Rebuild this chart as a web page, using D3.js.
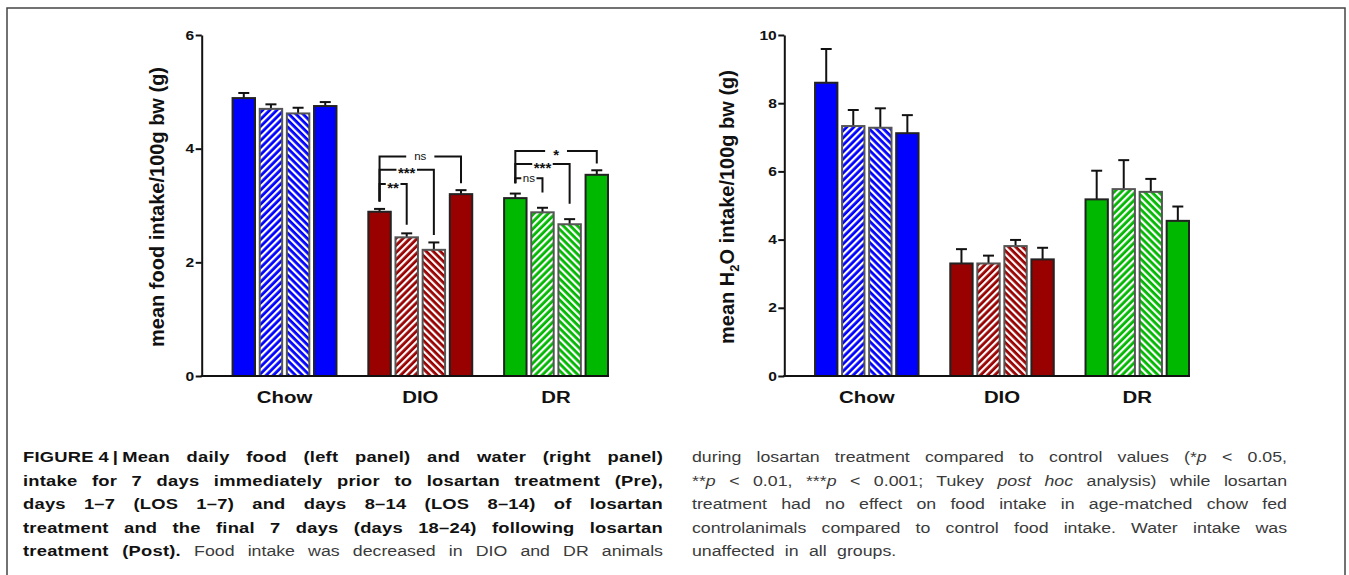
<!DOCTYPE html>
<html>
<head>
<meta charset="utf-8">
<script src="https://cdn.jsdelivr.net/npm/d3@7"></script>
<style>
  body { margin: 0; background: #fff; }
  svg { display: block; }
</style>
</head>
<body>
<svg id="fig" width="1349" height="575"></svg>
<script>
var groups = ["Chow", "DIO", "DR"]
var periods = ["Pre", "LOS 1-7", "LOS 8-14", "Post"]
var colors = ["#0000ff", "#990000", "#00b800"]

// mean daily food intake (g/100g bw) and SEM, rows = groups, cols = periods
var foodMean = [[4.89, 4.70, 4.62, 4.75], [2.89, 2.44, 2.22, 3.20], [3.13, 2.88, 2.67, 3.54]]
var foodErr = [[0.09, 0.08, 0.10, 0.07], [0.05, 0.07, 0.13, 0.07], [0.08, 0.08, 0.09, 0.08]]
// mean daily water intake
var waterMean = [[8.60, 7.33, 7.28, 7.12], [3.30, 3.30, 3.81, 3.42], [5.18, 5.48, 5.40, 4.55]]
var waterErr = [[0.99, 0.47, 0.57, 0.53], [0.42, 0.23, 0.18, 0.34], [0.84, 0.85, 0.38, 0.42]]

var foodTicks = [0, 2, 4, 6]
var waterTicks = [0, 2, 4, 6, 8, 10]

// Tukey comparisons vs Pre, drawn on the food panel (levels in data units)
var brackets = [
  { g: "DIO", a: 0, b: 3, label: "ns", level: 3.86, endA: 3.07, endB: 3.39 },
  { g: "DIO", a: 0, b: 2, label: "***", level: 3.63, endA: 3.07, endB: 2.48 },
  { g: "DIO", a: 0, b: 1, label: "**", level: 3.38, endA: 3.07, endB: 2.66 },
  { g: "DR", a: 0, b: 3, label: "*", level: 3.96, endA: 3.39, endB: 3.74 },
  { g: "DR", a: 0, b: 2, label: "***", level: 3.73, endA: 3.39, endB: 3.03 },
  { g: "DR", a: 0, b: 1, label: "ns", level: 3.48, endA: 3.39, endB: 3.23 }
]

var captionLeft = [
  [{ t: "FIGURE\u20054\u2009|\u2009Mean daily food (left panel) and water (right panel)", b: 1 }],
  [{ t: "intake for 7 days immediately prior to losartan treatment (Pre),", b: 1 }],
  [{ t: "days 1\u20137 (LOS 1\u20137) and days 8\u201314 (LOS 8\u201314) of losartan", b: 1 }],
  [{ t: "treatment and the final 7 days (days 18\u201324) following losartan", b: 1 }],
  [{ t: "treatment (Post).", b: 1 }, { t: " Food intake was decreased in DIO and DR animals" }]
]
var captionRight = [
  [{ t: "during losartan treatment compared to control values (*" }, { t: "p", i: 1 }, { t: " < 0.05," }],
  [{ t: "**" }, { t: "p", i: 1 }, { t: " < 0.01, ***" }, { t: "p", i: 1 }, { t: " < 0.001; Tukey " }, { t: "post hoc", i: 1 }, { t: " analysis) while losartan" }],
  [{ t: "treatment had no effect on food intake in age-matched chow fed" }],
  [{ t: "controlanimals compared to control food intake. Water intake was" }],
  [{ t: "unaffected in all groups." }]
]

var FONT = "'Liberation Sans', Arial, Helvetica, sans-serif"
var SX = 1.2   // the figure is a little stretched horizontally
var svg = d3.select("#fig")

// page frame
svg.append("rect")
  .attr("x", 7).attr("y", 8)
  .attr("width", 1338).attr("height", 620)
  .attr("fill", "none")
  .attr("stroke", "#444")
  .attr("stroke-width", 1.5)

// hatch patterns, "/" for LOS 1-7 and "\" for LOS 8-14
var defs = svg.append("defs")
colors.forEach(function(c, i) {
  [["up", 45], ["down", -45]].forEach(function(p) {
    var pat = defs.append("pattern")
      .attr("id", "hatch-" + p[0] + "-" + i)
      .attr("patternUnits", "userSpaceOnUse")
      .attr("width", 5).attr("height", 5)
      .attr("patternTransform", "rotate(" + p[1] + ")")
    pat.append("rect").attr("width", 5).attr("height", 5).attr("fill", c)
    pat.append("rect").attr("width", 2.2).attr("height", 5).attr("fill", "#fff")
  })
})

function panel(opt) {
  var y = d3.scaleLinear()
    .domain([0, d3.max(opt.ticks)])
    .range([376, 35])

  var x = d3.scaleBand()
    .domain(groups)
    .range([opt.x0, opt.x1])
    .paddingInner(0.22)
    .paddingOuter(0.11)
    .align(1)

  var xi = d3.scaleBand()
    .domain(d3.range(periods.length))
    .range([0, x.bandwidth()])
    .paddingInner(0.1)

  var rows = []
  groups.forEach(function(grp, gi) {
    periods.forEach(function(p, pi) {
      rows.push({ grp: grp, gi: gi, pi: pi, v: opt.mean[gi][pi], e: opt.err[gi][pi] })
    })
  })

  var g = svg.append("g")
  var bw = xi.bandwidth()
  var cap = bw * 0.45

  // error bars (upper only)
  var eb = g.append("g").selectAll("g").data(rows).join("g")
  eb.append("line")
    .attr("x1", d => x(d.grp) + xi(d.pi) + bw / 2)
    .attr("x2", d => x(d.grp) + xi(d.pi) + bw / 2)
    .attr("y1", d => y(d.v))
    .attr("y2", d => y(d.v + d.e))
    .attr("stroke", "#111").attr("stroke-width", 2)
  eb.append("line")
    .attr("x1", d => x(d.grp) + xi(d.pi) + bw / 2 - cap / 2)
    .attr("x2", d => x(d.grp) + xi(d.pi) + bw / 2 + cap / 2)
    .attr("y1", d => y(d.v + d.e))
    .attr("y2", d => y(d.v + d.e))
    .attr("stroke", "#111").attr("stroke-width", 2)

  // bars
  g.append("g").selectAll("rect").data(rows).join("rect")
    .attr("x", d => x(d.grp) + xi(d.pi) + 1)
    .attr("width", bw - 2)
    .attr("y", d => y(d.v))
    .attr("height", d => y(0) - y(d.v))
    .attr("fill", function(d) {
      if (d.pi == 1) return "url(#hatch-up-" + d.gi + ")"
      if (d.pi == 2) return "url(#hatch-down-" + d.gi + ")"
      return colors[d.gi]
    })
    .attr("stroke", d => (d.pi == 1 || d.pi == 2) ? "#555" : "#222")
    .attr("stroke-width", 2)

  // y axis
  var ya = g.append("g")
    .attr("transform", "translate(" + opt.x0 + ",0)")
    .call(d3.axisLeft(y)
      .tickValues(opt.ticks)
      .tickSize(6)
      .tickSizeOuter(0)
      .tickPadding(1.5)
      .tickFormat(d3.format("d")))
  ya.select(".domain").attr("stroke", "#111").attr("stroke-width", 2)
  ya.selectAll(".tick line").attr("stroke", "#111").attr("stroke-width", 2)
  ya.selectAll(".tick text")
    .attr("font-family", FONT)
    .attr("font-weight", "bold")
    .attr("font-size", "13px")
    .attr("fill", "#111")
    .each(function() {
      var t = d3.select(this)
      var tx = +t.attr("x")
      t.attr("x", 0).attr("transform", "translate(" + tx + ",0) scale(" + SX + ",1)")
    })

  // x axis baseline
  g.append("line")
    .attr("x1", opt.x0 - 1).attr("x2", opt.x1)
    .attr("y1", y(0)).attr("y2", y(0))
    .attr("stroke", "#111").attr("stroke-width", 2)

  g.append("g").selectAll("text").data(groups).join("text")
    .attr("transform", d => "translate(" + (x(d) + x.bandwidth() / 2) + ",403) scale(" + SX + ",1)")
    .attr("text-anchor", "middle")
    .attr("font-family", FONT)
    .attr("font-weight", "bold")
    .attr("font-size", "17px")
    .attr("fill", "#111")
    .text(d => d)

  // axis title
  var title = g.append("text")
    .attr("transform", "translate(" + opt.titleX + ",207) rotate(-90)")
    .attr("text-anchor", "middle")
    .attr("font-family", FONT)
    .attr("font-weight", "bold")
    .attr("font-size", "20px")
    .attr("fill", "#111")
  opt.title.forEach(function(s) {
    var ts = title.append("tspan").text(s.t)
    if (s.sub) ts.attr("font-size", "13px").attr("dy", 5)
    if (s.after) ts.attr("dy", -5)
  })

  // significance brackets
  if (opt.brackets) {
    var bg = g.append("g")
    opt.brackets.forEach(function(b) {
      var xa = x(b.g) + xi(b.a) + bw / 2
      var xb = x(b.g) + xi(b.b) + bw / 2
      var yl = y(b.level)
      bg.append("path")
        .attr("d", "M" + xa + "," + y(b.endA) + "V" + yl + "H" + xb + "V" + y(b.endB))
        .attr("fill", "none")
        .attr("stroke", "#111")
        .attr("stroke-width", 2)
      var star = b.label.indexOf("*") >= 0
      var lab = bg.append("text")
        .attr("x", (xa + xb) / 2)
        .attr("y", yl + (star ? 8.8 : 3.8))
        .attr("text-anchor", "middle")
        .attr("font-family", FONT)
        .attr("font-weight", star ? "bold" : "normal")
        .attr("font-size", star ? "15px" : "11.5px")
        .attr("fill", "#111")
        .text(b.label)
      var w = lab.node().getComputedTextLength()
      var pad = b.b == 3 ? 8 : 1.5
      bg.insert("rect", function() { return lab.node() })
        .attr("x", (xa + xb) / 2 - w / 2 - pad)
        .attr("y", yl - 3)
        .attr("width", w + 2 * pad)
        .attr("height", 6)
        .attr("fill", "#fff")
    })
  }
}

panel({
  x0: 201.7, x1: 609, ticks: foodTicks, mean: foodMean, err: foodErr,
  titleX: 163.5, title: [{ t: "mean food intake/100g bw (g)" }],
  brackets: brackets
})
panel({
  x0: 784.3, x1: 1190, ticks: waterTicks, mean: waterMean, err: waterErr,
  titleX: 733.5, title: [{ t: "mean H" }, { t: "2", sub: 1 }, { t: "O intake/100g bw (g)", after: 1 }]
})

// caption, two justified columns
function caption(lines, x0, width, lastJustified) {
  lines.forEach(function(segs, li) {
    var t = svg.append("text")
      .attr("transform", "translate(" + x0 + "," + (462 + li * 23.6) + ") scale(" + SX + ",1)")
      .attr("fill", "#222")
    segs.forEach(function(s) {
      t.append("tspan")
        .attr("font-family", FONT)
        .attr("font-weight", s.b ? "bold" : "normal")
        .attr("font-style", s.i ? "italic" : "normal")
        .attr("font-size", s.b ? "15.3px" : "14.8px")
        .attr("letter-spacing", s.b ? "0.2px" : "0px")
        .attr("fill", s.b ? "#111" : "#3a3a3a")
        .text(s.t)
    })
    var full = segs.map(s => s.t).join("")
    var spaces = full.split(" ").length - 1
    var w = t.node().getComputedTextLength()
    if (li < lines.length - 1 || lastJustified) {
      t.style("word-spacing", Math.max(0, (width / SX - w) / spaces) + "px")
    } else {
      t.style("word-spacing", "4.5px")
    }
  })
}
caption(captionLeft, 23, 640, true)
caption(captionRight, 692, 595, false)
</script>
</body>
</html>
